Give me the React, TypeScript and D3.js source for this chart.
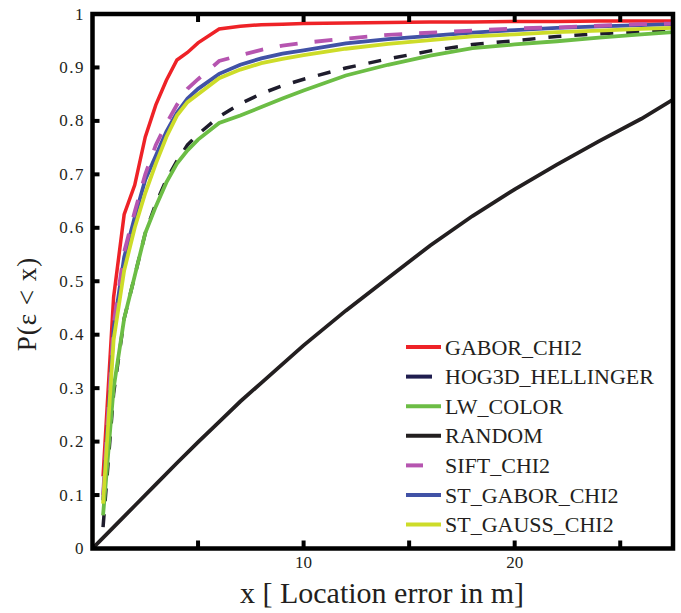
import React from "react";
import * as d3 from "d3";

const distances = [0.5, 1, 1.5, 2, 2.5, 3, 3.5, 4, 4.5, 5, 6, 7, 8, 9, 10, 12, 14, 16, 18, 20, 22, 24, 26, 27.5];
const randomDistances = [0, 1, 2, 3, 4, 5, 6, 7, 8, 9, 10, 12, 14, 16, 18, 20, 22, 24, 26, 27.5];

const gaborChi2 = [0.135, 0.47, 0.625, 0.68, 0.77, 0.83, 0.876, 0.914, 0.928, 0.946, 0.972, 0.977, 0.98, 0.981, 0.982, 0.983, 0.984, 0.985, 0.985, 0.986, 0.986, 0.987, 0.987, 0.987];
const hog3dHellinger = [0.04, 0.29, 0.43, 0.51, 0.59, 0.645, 0.69, 0.725, 0.755, 0.775, 0.808, 0.832, 0.851, 0.866, 0.878, 0.899, 0.916, 0.931, 0.943, 0.95, 0.958, 0.963, 0.967, 0.97];
const lwColor = [0.062, 0.3, 0.43, 0.51, 0.59, 0.64, 0.685, 0.72, 0.745, 0.765, 0.796, 0.81, 0.826, 0.842, 0.857, 0.885, 0.905, 0.922, 0.936, 0.943, 0.949, 0.956, 0.962, 0.966];
const randomBaseline = [0, 0.04, 0.08, 0.12, 0.16, 0.199, 0.237, 0.275, 0.31, 0.345, 0.38, 0.445, 0.506, 0.567, 0.622, 0.672, 0.718, 0.762, 0.804, 0.84];
const siftChi2 = [0.1, 0.42, 0.555, 0.63, 0.7, 0.755, 0.795, 0.83, 0.86, 0.878, 0.912, 0.923, 0.933, 0.941, 0.946, 0.954, 0.961, 0.965, 0.969, 0.973, 0.975, 0.978, 0.981, 0.982];
const stGaborChi2 = [0.09, 0.41, 0.545, 0.62, 0.69, 0.735, 0.78, 0.815, 0.842, 0.86, 0.888, 0.905, 0.917, 0.926, 0.932, 0.945, 0.953, 0.959, 0.965, 0.97, 0.974, 0.977, 0.979, 0.981];
const stGaussChi2 = [0.084, 0.39, 0.52, 0.6, 0.665, 0.72, 0.77, 0.81, 0.835, 0.85, 0.88, 0.896, 0.908, 0.916, 0.923, 0.935, 0.944, 0.951, 0.958, 0.962, 0.966, 0.969, 0.972, 0.974];

const legendNames = ["GABOR_CHI2", "HOG3D_HELLINGER", "LW_COLOR", "RANDOM", "SIFT_CHI2", "ST_GABOR_CHI2", "ST_GAUSS_CHI2"];
const yTicks = [0, 0.1, 0.2, 0.3, 0.4, 0.5, 0.6, 0.7, 0.8, 0.9, 1];
const yTickLabels = ["0", "0.1", "0.2", "0.3", "0.4", "0.5", "0.6", "0.7", "0.8", "0.9", "1"];
const xTicks = [5, 10, 15, 20, 25];
const xTickLabels = ["", "10", "", "20", ""];

type Series = { name: string; xs: number[]; ys: number[]; color: string; width: number; dash?: string; legendLen: number; legendColor?: string };

const seriesDefs: Series[] = [
  { name: legendNames[0], xs: distances, ys: gaborChi2, color: "#ee2227", width: 3.5, legendLen: 35 },
  { name: legendNames[1], xs: distances, ys: hog3dHellinger, color: "#1e1c2c", width: 3.5, dash: "13 13", legendLen: 26, legendColor: "#1f1d4f" },
  { name: legendNames[2], xs: distances, ys: lwColor, color: "#6cbd45", width: 3.8, legendLen: 35 },
  { name: legendNames[3], xs: randomDistances, ys: randomBaseline, color: "#231f20", width: 3.8, legendLen: 35 },
  { name: legendNames[4], xs: distances, ys: siftChi2, color: "#b655b0", width: 3.8, dash: "18 17", legendLen: 17 },
  { name: legendNames[5], xs: distances, ys: stGaborChi2, color: "#4152a6", width: 3.8, legendLen: 35 },
  { name: legendNames[6], xs: distances, ys: stGaussChi2, color: "#cddc29", width: 3.8, legendLen: 35 },
];

const drawOrder = [0, 1, 2, 3, 5, 4, 6];

export default function App() {
  const W = 681, H = 613;
  const left = 92.5, right = 673, top = 14, bottom = 548.5;
  const x = d3.scaleLinear().domain([0, 27.5]).range([left, right]);
  const y = d3.scaleLinear().domain([0, 1]).range([bottom, top]);
  const font = "Liberation Serif, Times New Roman, DejaVu Serif, serif";
  const ts = { fontFamily: font };

  const lineGen = (s: Series) =>
    d3.line<number>()
      .x((_, i) => x(s.xs[i]))
      .y((v) => y(v))(s.ys) || "";

  const legendY0 = 347, legendStep = 29.6;

  return (
    <svg width={W} height={H} style={{ position: "absolute", left: 0, top: 0, background: "#fff", fontFamily: font }}>
      <rect x={0} y={0} width={W} height={H} fill="#fff" />
      <defs>
        <clipPath id="plotclip">
          <rect x={left} y={top - 2} width={right - left} height={bottom - top + 2} />
        </clipPath>
      </defs>
      <g clipPath="url(#plotclip)">
        {drawOrder.map((k) => {
          const s = seriesDefs[k];
          return (
            <path key={s.name} d={lineGen(s)} fill="none" stroke={s.color} strokeWidth={s.width}
              strokeDasharray={s.dash} strokeLinejoin="miter" strokeLinecap="butt" />
          );
        })}
      </g>
      <rect x={left} y={top} width={right - left} height={bottom - top} fill="none" stroke="#000" strokeWidth={4.5} />
      {yTicks.map((t, i) => (
        <g key={"y" + i}>
          {t > 0 && t < 1 && <line x1={left} x2={left + 7} y1={y(t)} y2={y(t)} stroke="#000" strokeWidth={4} />}
          <text x={85} y={y(t) + 5.5} textAnchor="end" fontSize={17} letterSpacing={1.5} fill="#231f20" style={ts}>{yTickLabels[i]}</text>
        </g>
      ))}
      {xTicks.map((t, i) => (
        <g key={"x" + i}>
          <line x1={x(t)} x2={x(t)} y1={bottom} y2={bottom - 8} stroke="#000" strokeWidth={4} />
          <line x1={x(t)} x2={x(t)} y1={top} y2={top + 8} stroke="#000" strokeWidth={4} />
          {xTickLabels[i] && (
            <text x={x(t)} y={568} textAnchor="middle" fontSize={17} fill="#231f20" style={ts}>{xTickLabels[i]}</text>
          )}
        </g>
      ))}
      <text x={382} y={603} textAnchor="middle" fontSize={30} fill="#231f20" style={ts}>x [ Location error in m]</text>
      <text transform={`translate(36,304) rotate(-90)`} textAnchor="middle" fontSize={27} letterSpacing={1} fill="#231f20" style={ts}>P(ε &lt; x)</text>
      {seriesDefs.map((s, i) => {
        const cy = legendY0 + i * legendStep;
        return (
          <g key={"lg" + i}>
            <line x1={406} x2={406 + s.legendLen} y1={cy} y2={cy} stroke={s.legendColor || s.color} strokeWidth={4} />
            <text x={445} y={cy + 7.5} fontSize={22} fill="#231f20" style={ts}>{s.name}</text>
          </g>
        );
      })}
    </svg>
  );
}
